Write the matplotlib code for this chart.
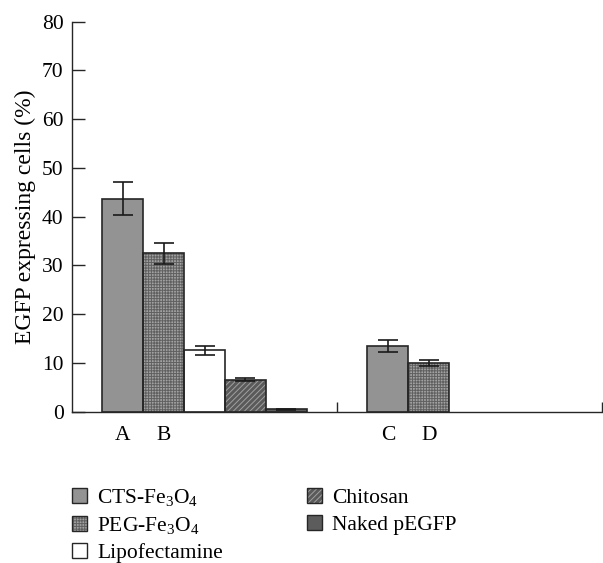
import numpy as np
import matplotlib
matplotlib.use('Agg')
import matplotlib.pyplot as plt
from matplotlib.patches import Patch

plt.rcParams['font.family'] = ['Liberation Serif', 'DejaVu Serif']
plt.rcParams['mathtext.fontset'] = 'custom'
plt.rcParams['mathtext.rm'] = 'Liberation Serif'
plt.rcParams['mathtext.default'] = 'regular'
plt.rcParams['hatch.linewidth'] = 0.7

# data
series = ['CTS-Fe$_3$O$_4$', 'PEG-Fe$_3$O$_4$', 'Lipofectamine', 'Chitosan', 'Naked pEGFP']
values = np.array([[43.7, 13.5],
                   [32.5, 10.0],
                   [12.6, 0.0],
                   [6.6, 0.0],
                   [0.5, 0.0]])
errors = np.array([[3.4, 1.2],
                   [2.2, 0.6],
                   [0.9, 0.0],
                   [0.4, 0.0],
                   [0.1, 0.0]])
bar_letters = ['A', 'B', 'C', 'D']

# fill, hatch colour, hatch pattern per series
faces = ['#939393', '#a2a2a2', 'white', '#5a5a5a', '#5c5c5c']
hatch_cols = ['#939393', '#606060', 'white', '#a0a0a0', '#5c5c5c']
hatches = [None, '++++++', None, '//////', None]
edge = '#262626'

fig = plt.figure(figsize=(6.03, 5.63), dpi=100)
ax = fig.add_axes([72 / 603, 151.3 / 563, 530 / 603, 390 / 563])

ncat = values.shape[1]
x = np.arange(ncat)
w = 0.154
offsets = (np.arange(len(series)) - 2) * w

handles = []
for k, name in enumerate(series):
    pos = x + offsets[k]
    keep = values[k] > 0
    ax.bar(pos[keep], values[k][keep], w, color=faces[k], edgecolor=hatch_cols[k],
           hatch=hatches[k], linewidth=0, zorder=2)
    ax.bar(pos[keep], values[k][keep], w, fill=False, edgecolor=edge, linewidth=1.2, zorder=3)
    ax.errorbar(pos[keep], values[k][keep], yerr=errors[k][keep], fmt='none',
                ecolor='#1a1a1a', elinewidth=1.2, capsize=7.5, capthick=1.2, zorder=4)
    p_fill = Patch(facecolor=faces[k], edgecolor=hatch_cols[k], hatch=hatches[k], linewidth=0)
    p_edge = Patch(fill=False, edgecolor=edge, linewidth=1.0)
    handles.append((p_fill, p_edge))

ax.set_xlim(-0.5, 1.5)
ax.set_ylim(0, 80)
ax.set_yticks(np.arange(0, 81, 10))
for s in ['top', 'right']:
    ax.spines[s].set_visible(False)
for s in ['left', 'bottom']:
    ax.spines[s].set_color(edge)
    ax.spines[s].set_linewidth(1.0)

ax.tick_params(axis='y', direction='in', length=9, width=1.0, color=edge,
               labelsize=15.5, pad=6)
# letters under the first two bars of each group
ax.set_xticks([x[0] + offsets[0], x[0] + offsets[1], x[1] + offsets[0], x[1] + offsets[1]])
ax.set_xticklabels(bar_letters)
ax.tick_params(axis='x', which='major', length=0, labelsize=15.5, pad=10)
ax.set_xticks([0.5, 1.5], minor=True)
ax.tick_params(axis='x', which='minor', direction='in', length=7, width=1.0, color=edge)

ax.set_ylabel('EGFP expressing cells (%)', fontsize=17, labelpad=4)

fig.legend(handles=handles, labels=series, ncol=2, loc='upper left',
           bbox_to_anchor=(72 / 603, 1 - 487 / 563), frameon=False, fontsize=15.5,
           handlelength=0.7, handleheight=0.7, handletextpad=0.47,
           labelspacing=0.33, columnspacing=3.9, borderpad=0, borderaxespad=0)

fig.savefig('out.png', dpi=100)
